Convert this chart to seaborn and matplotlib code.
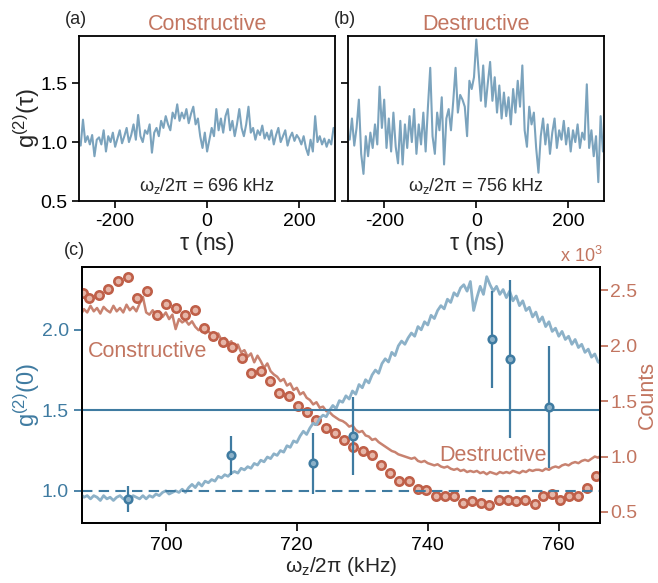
'''
g2 traces and counts vs trap frequency
'''

import numpy as np
import matplotlib
matplotlib.use("Agg")
import matplotlib.pyplot as plt
import seaborn as sns

# ---- panel (a)/(b): g2(tau), 5 ns bins from -275 ns
g2_constructive = [
    0.97, 1.19, 1.00, 1.05, 0.98, 1.06, 0.88, 1.02,
    1.04, 0.98, 1.10, 0.92, 1.05, 1.00, 1.08, 0.96, 1.03, 1.10, 0.99, 1.05, 1.12, 1.00, 1.06,
    1.15, 1.02, 1.23, 1.05, 1.00, 1.10, 1.07, 1.15, 0.91, 1.08, 1.12, 1.05,
    1.18, 1.12, 1.22, 1.15, 1.10, 1.25, 1.20,
    1.32, 1.18, 1.25, 1.20, 1.28, 1.16, 1.24, 1.30, 1.15, 1.20,
    1.05, 0.95, 1.08, 0.92, 1.02,
    1.12, 1.05, 1.28, 1.10, 1.20, 1.08, 1.22, 1.28, 1.10, 1.18, 1.05, 1.15, 1.28,
    1.12, 1.05, 1.15, 1.30, 1.08, 1.12, 1.02, 1.10, 1.06, 1.14, 1.03,
    1.08, 1.02, 1.10, 0.98, 1.06, 1.12, 1.00, 1.05, 1.10, 0.97, 1.04, 1.08, 1.01, 1.06, 1.03,
    0.98, 1.05, 0.95, 0.89, 1.02, 0.92, 1.22, 1.00, 1.05, 0.98, 1.03, 0.96, 1.02, 0.98, 1.12,
]
g2_destructive = [
    1.02, 1.20, 0.97, 1.12, 1.36, 0.90, 0.73,
    1.05, 0.88, 1.08, 0.95, 1.15, 0.98, 1.47, 1.12,
    1.36, 0.95, 1.20, 0.92, 1.25, 0.96, 0.82, 1.18, 0.81, 1.15,
    0.95, 1.22, 1.00, 1.28, 0.90, 1.15, 0.98, 1.25, 0.92, 1.30, 1.63,
    1.05, 0.90, 1.25, 1.10, 1.38, 0.81, 1.20, 1.28,
    1.10, 1.35, 1.63, 1.25, 1.40, 1.36,
    1.30, 1.05, 1.52, 1.45, 1.55, 1.87, 1.60,
    1.35, 1.65, 1.30, 1.50, 1.68, 1.35, 1.55,
    1.25, 1.48, 1.20, 1.42, 1.22, 1.38, 1.15, 1.45, 1.25, 1.52,
    1.30, 1.65, 1.10, 0.96, 1.30, 1.15,
    1.25, 0.95, 0.74, 1.05, 1.20, 0.98,
    1.15, 0.90, 1.08, 1.20, 0.95, 1.10, 1.02, 1.18,
    0.98, 1.12, 0.92, 1.10, 1.00, 1.15, 0.95, 1.08, 1.02, 1.49,
    0.95, 1.10, 0.88, 1.05, 0.66, 1.22, 0.92,
]
tau = np.arange(len(g2_constructive)) * 5 - 275

# ---- panel (c): scan over trap frequency, 0.5 kHz steps from 687 kHz
counts_line = [  # x 10^3
    2.28, 2.33, 2.30, 2.36, 2.31, 2.34, 2.29, 2.35, 2.32, 2.30,
    2.36, 2.31, 2.34, 2.30, 2.37, 2.32, 2.35, 2.31, 2.38, 2.44,
    2.30, 2.28, 2.32, 2.27, 2.31, 2.26, 2.30, 2.24, 2.28, 2.15,
    2.24, 2.21, 2.23, 2.19, 2.22, 2.17, 2.14, 2.16, 2.11, 2.13,
    2.10, 2.08, 2.11, 2.05, 2.07, 2.02, 2.04, 1.97, 2.01, 1.94,
    1.96, 1.90, 1.93, 1.85, 1.91, 1.86, 1.80, 1.84, 1.77, 1.74,
    1.72, 1.68, 1.70, 1.64, 1.66, 1.60, 1.62, 1.56, 1.58, 1.53,
    1.51, 1.47, 1.49, 1.44, 1.45, 1.41, 1.40, 1.37, 1.35, 1.33,
    1.32, 1.30, 1.27, 1.28, 1.24, 1.22, 1.23, 1.19, 1.18, 1.15,
    1.16, 1.13, 1.11, 1.09, 1.07, 1.05, 1.04, 1.02, 1.01, 1.00,
    0.99, 0.98, 0.99, 0.96, 0.95, 0.96, 0.94, 0.93, 0.92, 0.93,
    0.91, 0.90, 0.91, 0.89, 0.88, 0.89, 0.87, 0.88, 0.86, 0.87,
    0.86, 0.87, 0.85, 0.86, 0.84, 0.86, 0.85, 0.84, 0.86, 0.85,
    0.86, 0.85, 0.87, 0.86, 0.85, 0.87, 0.86, 0.88, 0.87, 0.88,
    0.88, 0.87, 0.89, 0.88, 0.90, 0.91, 0.90, 0.92, 0.93, 0.92,
    0.94, 0.95, 0.94, 0.96, 0.97, 0.96, 0.98, 1.00, 0.99, 1.01,
]
blue_line = [
    0.98, 0.96, 0.97, 0.95, 0.97, 0.96, 0.94, 0.97, 0.95, 0.96,
    0.94, 0.96, 0.97, 0.95, 0.96, 0.94, 0.97, 0.96, 0.95, 0.97,
    0.95, 0.97, 0.96, 0.98, 0.97, 0.99, 1.00, 0.98, 0.99, 1.00,
    0.99, 1.01, 0.99, 1.02, 1.04, 1.02, 1.05, 1.03, 1.06, 1.05,
    1.07, 1.06, 1.09, 1.08, 1.10, 1.09, 1.11, 1.12, 1.11, 1.14,
    1.13, 1.15, 1.14, 1.17, 1.16, 1.19, 1.18, 1.21, 1.20, 1.23,
    1.22, 1.25, 1.24, 1.28, 1.27, 1.31, 1.30, 1.34, 1.37, 1.35,
    1.39, 1.42, 1.41, 1.45, 1.47, 1.46, 1.50, 1.53, 1.51, 1.56,
    1.55, 1.59, 1.57, 1.62, 1.60, 1.66, 1.64, 1.69, 1.67, 1.72,
    1.75, 1.73, 1.79, 1.82, 1.80, 1.86, 1.84, 1.90, 1.93, 1.91,
    1.95, 1.98, 1.96, 2.02, 2.00, 2.05, 2.03, 2.09, 2.07, 2.12,
    2.15, 2.13, 2.19, 2.17, 2.23, 2.21, 2.26, 2.28, 2.24, 2.30,
    2.12, 2.20, 2.27, 2.22, 2.33, 2.28, 2.24, 2.27, 2.22, 2.25,
    2.20, 2.24, 2.18, 2.21, 2.15, 2.18, 2.12, 2.14, 2.08, 2.11,
    2.05, 2.08, 2.02, 2.05, 1.99, 2.01, 1.96, 1.99, 1.94, 1.96,
    1.91, 1.94, 1.89, 1.91, 1.86, 1.88, 1.83, 1.85, 1.80, 1.79,
]
freq_line = np.arange(len(counts_line)) * 0.5 + 687.0

# counts, circles (x 10^3)
freq_pts = [
    687.3, 688.3, 689.8, 691.2, 692.7, 694.2, 695.6, 697.1, 698.6, 700.0,
    701.5, 703.0, 704.4, 705.8, 707.2, 708.7, 710.1, 711.6, 713.0, 714.5,
    715.9, 717.3, 718.8, 720.2, 721.6, 723.0, 724.5, 725.9, 727.2, 728.6,
    730.1, 731.5, 732.9, 734.2, 735.6, 737.1, 738.5, 739.8, 741.3, 742.7,
    744.0, 745.4, 746.8, 748.1, 749.4, 750.9, 752.2, 753.5, 754.8, 756.3,
    757.6, 758.9, 760.2, 761.6, 763.0, 764.3, 765.7,
]
counts_pts = [
    2.48, 2.43, 2.46, 2.51, 2.58, 2.62, 2.43, 2.49, 2.28, 2.38,
    2.34, 2.28, 2.32, 2.16, 2.09, 2.03, 1.99, 1.89, 1.75, 1.77,
    1.68, 1.57, 1.55, 1.46, 1.40, 1.33, 1.26, 1.21, 1.15, 1.09,
    1.05, 1.01, 0.92, 0.85, 0.78, 0.78, 0.71, 0.70, 0.64, 0.64,
    0.64, 0.58, 0.60, 0.58, 0.56, 0.61, 0.61, 0.60, 0.61, 0.57,
    0.64, 0.66, 0.61, 0.64, 0.64, 0.72, 0.82,
]

# g2(0) measurements
freq_g2 = [694.2, 710.0, 722.5, 728.6, 749.8, 752.6, 758.5]
g2_zero = [0.95, 1.22, 1.17, 1.34, 1.94, 1.82, 1.52]
g2_err = [0.08, 0.12, 0.19, 0.24, 0.30, 0.49, 0.38]

orange = "#c27560"
orange_dark = "#bf5f48"
orange_face = "#e6b6a8"
blue = "#3f7ba1"
blue_light = "#8cb1c8"

sns.set_theme(style="ticks")
plt.rcParams["font.family"] = ["Liberation Sans", "DejaVu Sans"]
plt.rcParams["mathtext.fontset"] = "custom"
plt.rcParams["mathtext.rm"] = "Liberation Sans"
plt.rcParams["mathtext.it"] = "Liberation Sans"
plt.rcParams["axes.unicode_minus"] = False
plt.rcParams["axes.linewidth"] = 1.3
plt.rcParams["axes.edgecolor"] = "black"

fig = plt.figure(figsize=(6.58, 5.83), dpi=100)
ax_a = fig.add_axes([0.1205, 0.6552, 0.3885, 0.2831])
ax_b = fig.add_axes([0.5293, 0.6552, 0.3891, 0.2831])
ax_c = fig.add_axes([0.1246, 0.1029, 0.7873, 0.4391])
ax_r = ax_c.twinx()

for ax, g2, title, label, freq in [
    (ax_a, g2_constructive, "Constructive", "(a)", 696),
    (ax_b, g2_destructive, "Destructive", "(b)", 756),
]:
    sns.lineplot(x=tau, y=g2, ax=ax, color="#7ba3bd", linewidth=1.5)
    ax.set_xlim(-278, 278)
    ax.set_ylim(0.5, 1.9)
    ax.set_xticks([-200, 0, 200])
    ax.set_yticks([0.5, 1.0, 1.5])
    ax.tick_params(direction="out", length=5, width=1.2, labelsize=14, colors="black")
    ax.set_xlabel(r"$\tau$ (ns)", fontsize=16.5, labelpad=0)
    ax.set_title(title, color=orange, fontsize=15.5, pad=4)
    ax.text(-0.058, 1.097, label, transform=ax.transAxes,
            fontsize=13, ha="left", va="center")
    ax.text(0.5, 0.09, r"$\omega_z/2\pi$ = %d kHz" % freq, transform=ax.transAxes,
            fontsize=13, ha="center", va="center")
    for s in ax.spines.values():
        s.set_visible(True)

ax_a.set_ylabel(r"g$^{(2)}$($\tau$)", fontsize=17)
ax_a.yaxis.set_label_coords(-0.146, 0.5)
ax_b.set_yticklabels([])

# panel (c)
sns.lineplot(x=freq_line, y=counts_line, ax=ax_r, color=orange, linewidth=1.8, alpha=0.9)
sns.scatterplot(x=freq_pts, y=counts_pts, ax=ax_r, s=36, marker="o",
                facecolor=orange_face, edgecolor=orange_dark, linewidth=1.9, zorder=3)
sns.lineplot(x=freq_line, y=blue_line, ax=ax_c, color=blue_light, linewidth=2.0)
ax_c.axhline(1.5, color=blue, linewidth=1.5)
ax_c.axhline(1.0, color=blue, linewidth=1.5, linestyle=(0, (5, 3)))
ax_c.errorbar(freq_g2, g2_zero, yerr=g2_err, fmt="o", color=blue, markersize=5.5,
              markerfacecolor=blue_light, markeredgecolor=blue, markeredgewidth=1.8,
              elinewidth=1.6, capsize=0, zorder=5)

ax_c.set_zorder(ax_r.get_zorder() + 1)
ax_c.patch.set_visible(False)

ax_c.set_xlim(687.2, 766.3)
ax_c.set_ylim(0.80, 2.39)
ax_r.set_ylim(0.40, 2.71)
ax_c.set_xticks([700, 720, 740, 760])
ax_c.set_yticks([1.0, 1.5, 2.0])
ax_r.set_yticks([0.5, 1.0, 1.5, 2.0, 2.5])
ax_c.tick_params(axis="x", direction="out", length=6, width=1.2, labelsize=14,
                 colors="black", pad=4)
ax_c.tick_params(axis="y", direction="out", length=6, width=1.3, labelsize=14,
                 colors=blue, labelcolor=blue)
ax_r.tick_params(axis="y", direction="out", length=6, width=1.3, labelsize=14,
                 colors=orange, labelcolor=orange, pad=1.5)
ax_c.set_xlabel(r"$\omega_z/2\pi$ (kHz)", fontsize=15, labelpad=1)
ax_c.set_ylabel(r"g$^{(2)}$(0)", fontsize=17, color=blue)
ax_c.yaxis.set_label_coords(-0.077, 0.5)
ax_r.set_ylabel("Counts", fontsize=15.5, color=orange)
ax_r.yaxis.set_label_coords(1.071, 0.5)
ax_r.text(0.923, 1.045, r"x 10$^3$", transform=ax_c.transAxes, fontsize=13,
          color=orange, ha="left", va="center")
ax_c.text(-0.035, 1.065, "(c)", transform=ax_c.transAxes, fontsize=13,
          ha="left", va="center")
ax_c.text(0.012, 0.67, "Constructive", transform=ax_c.transAxes, fontsize=15.5,
          color=orange, ha="left", va="center")
ax_c.text(0.69, 0.265, "Destructive", transform=ax_c.transAxes, fontsize=15.5,
          color=orange, ha="left", va="center")
for s in ax_c.spines.values():
    s.set_visible(True)
    s.set_color("black")
ax_r.spines["right"].set_color("black")

fig.savefig("out.png", dpi=100)
